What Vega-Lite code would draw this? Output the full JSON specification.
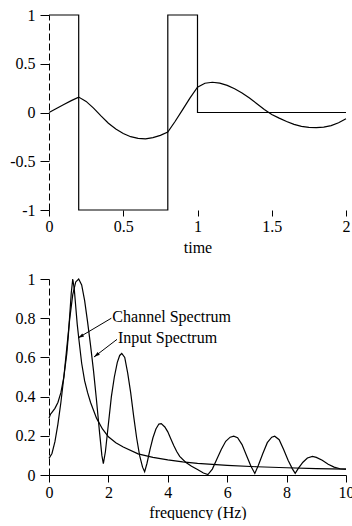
{
  "$schema": "https://vega.github.io/schema/vega-lite/v6.json",
  "background": "white",
  "padding": {"left": 9, "top": 7, "right": 0, "bottom": 0},
  "spacing": 16,
  "config": {
    "view": {"stroke": null},
    "axis": {
      "grid": false,
      "labelFont": "Liberation Serif",
      "titleFont": "Liberation Serif",
      "labelFontSize": 16,
      "titleFontSize": 16,
      "titleFontWeight": "normal",
      "labelColor": "black",
      "titleColor": "black",
      "tickColor": "black",
      "domainColor": "black",
      "labelFlush": false,
      "labelOverlap": false
    }
  },
  "datasets": {
    "sq": [
      {"i": 0, "t": 0, "v": 1},
      {"i": 1, "t": 0.2, "v": 1},
      {"i": 2, "t": 0.2, "v": -1},
      {"i": 3, "t": 0.8, "v": -1},
      {"i": 4, "t": 0.8, "v": 1},
      {"i": 5, "t": 1, "v": 1},
      {"i": 6, "t": 1, "v": 0},
      {"i": 7, "t": 2, "v": 0}
    ],
    "resp": [
      {"t": 0, "v": 0}, {"t": 0.05, "v": 0.042}, {"t": 0.1, "v": 0.083}, {"t": 0.15, "v": 0.122},
      {"t": 0.2, "v": 0.158}, {"t": 0.25, "v": 0.114}, {"t": 0.3, "v": 0.045}, {"t": 0.35, "v": -0.035},
      {"t": 0.4, "v": -0.11}, {"t": 0.45, "v": -0.17}, {"t": 0.5, "v": -0.215}, {"t": 0.55, "v": -0.248},
      {"t": 0.6, "v": -0.265}, {"t": 0.65, "v": -0.27}, {"t": 0.7, "v": -0.258}, {"t": 0.75, "v": -0.235},
      {"t": 0.8, "v": -0.2}, {"t": 0.85, "v": -0.09}, {"t": 0.9, "v": 0.03}, {"t": 0.95, "v": 0.15},
      {"t": 1.0, "v": 0.26}, {"t": 1.05, "v": 0.3}, {"t": 1.1, "v": 0.31}, {"t": 1.15, "v": 0.302},
      {"t": 1.2, "v": 0.278}, {"t": 1.25, "v": 0.243}, {"t": 1.3, "v": 0.2}, {"t": 1.35, "v": 0.148},
      {"t": 1.4, "v": 0.09}, {"t": 1.45, "v": 0.03}, {"t": 1.5, "v": -0.02}, {"t": 1.55, "v": -0.058},
      {"t": 1.6, "v": -0.093}, {"t": 1.65, "v": -0.122}, {"t": 1.7, "v": -0.142}, {"t": 1.75, "v": -0.153},
      {"t": 1.8, "v": -0.155}, {"t": 1.85, "v": -0.15}, {"t": 1.9, "v": -0.135}, {"t": 1.95, "v": -0.105},
      {"t": 2.0, "v": -0.065}
    ],
    "channel": [
      {"f": 0, "v": 0.29}, {"f": 0.05, "v": 0.31}, {"f": 0.1, "v": 0.32}, {"f": 0.2, "v": 0.34},
      {"f": 0.3, "v": 0.37}, {"f": 0.4, "v": 0.42}, {"f": 0.5, "v": 0.5}, {"f": 0.6, "v": 0.62},
      {"f": 0.65, "v": 0.71}, {"f": 0.7, "v": 0.82}, {"f": 0.75, "v": 0.93}, {"f": 0.8, "v": 1.0},
      {"f": 0.85, "v": 0.95}, {"f": 0.9, "v": 0.86}, {"f": 0.95, "v": 0.77}, {"f": 1.0, "v": 0.7},
      {"f": 1.1, "v": 0.57}, {"f": 1.2, "v": 0.48}, {"f": 1.3, "v": 0.42}, {"f": 1.4, "v": 0.37},
      {"f": 1.6, "v": 0.29}, {"f": 1.8, "v": 0.235}, {"f": 2.0, "v": 0.195}, {"f": 2.25, "v": 0.165},
      {"f": 2.5, "v": 0.143}, {"f": 3.0, "v": 0.108}, {"f": 3.5, "v": 0.09}, {"f": 4.0, "v": 0.077},
      {"f": 4.5, "v": 0.067}, {"f": 5.0, "v": 0.059}, {"f": 6.0, "v": 0.049}, {"f": 7.0, "v": 0.042},
      {"f": 8.0, "v": 0.037}, {"f": 9.0, "v": 0.033}, {"f": 10.0, "v": 0.03}
    ],
    "input": [
      {"f": 0, "v": 0.085}, {"f": 0.1, "v": 0.11}, {"f": 0.2, "v": 0.17}, {"f": 0.3, "v": 0.26},
      {"f": 0.4, "v": 0.37}, {"f": 0.5, "v": 0.5}, {"f": 0.6, "v": 0.65}, {"f": 0.7, "v": 0.8},
      {"f": 0.8, "v": 0.92}, {"f": 0.9, "v": 0.985}, {"f": 1.0, "v": 1.0}, {"f": 1.1, "v": 0.97},
      {"f": 1.2, "v": 0.89}, {"f": 1.3, "v": 0.78}, {"f": 1.4, "v": 0.66}, {"f": 1.5, "v": 0.53},
      {"f": 1.6, "v": 0.38}, {"f": 1.7, "v": 0.22}, {"f": 1.78, "v": 0.1}, {"f": 1.83, "v": 0.058},
      {"f": 1.9, "v": 0.12}, {"f": 2.0, "v": 0.26}, {"f": 2.1, "v": 0.4}, {"f": 2.2, "v": 0.5},
      {"f": 2.3, "v": 0.575}, {"f": 2.38, "v": 0.61}, {"f": 2.45, "v": 0.62}, {"f": 2.55, "v": 0.6},
      {"f": 2.65, "v": 0.52}, {"f": 2.75, "v": 0.42}, {"f": 2.85, "v": 0.3}, {"f": 2.95, "v": 0.19},
      {"f": 3.05, "v": 0.1}, {"f": 3.15, "v": 0.04}, {"f": 3.22, "v": 0.017}, {"f": 3.3, "v": 0.06},
      {"f": 3.4, "v": 0.13}, {"f": 3.5, "v": 0.19}, {"f": 3.6, "v": 0.235}, {"f": 3.7, "v": 0.26},
      {"f": 3.78, "v": 0.262}, {"f": 3.9, "v": 0.245}, {"f": 4.0, "v": 0.22}, {"f": 4.1, "v": 0.185},
      {"f": 4.2, "v": 0.15}, {"f": 4.3, "v": 0.12}, {"f": 4.4, "v": 0.095}, {"f": 4.6, "v": 0.065},
      {"f": 4.8, "v": 0.045}, {"f": 5.0, "v": 0.028}, {"f": 5.2, "v": 0.01}, {"f": 5.35, "v": 0.002},
      {"f": 5.5, "v": 0.03}, {"f": 5.65, "v": 0.08}, {"f": 5.8, "v": 0.13}, {"f": 5.95, "v": 0.172},
      {"f": 6.1, "v": 0.193}, {"f": 6.22, "v": 0.198}, {"f": 6.35, "v": 0.19}, {"f": 6.5, "v": 0.155},
      {"f": 6.65, "v": 0.1}, {"f": 6.8, "v": 0.045}, {"f": 6.93, "v": 0.008}, {"f": 7.05, "v": 0.05},
      {"f": 7.2, "v": 0.11}, {"f": 7.35, "v": 0.165}, {"f": 7.5, "v": 0.193}, {"f": 7.6, "v": 0.198},
      {"f": 7.75, "v": 0.18}, {"f": 7.9, "v": 0.13}, {"f": 8.05, "v": 0.075}, {"f": 8.2, "v": 0.03},
      {"f": 8.29, "v": 0.008}, {"f": 8.4, "v": 0.035}, {"f": 8.55, "v": 0.065}, {"f": 8.7, "v": 0.087},
      {"f": 8.87, "v": 0.095}, {"f": 9.0, "v": 0.09}, {"f": 9.2, "v": 0.075}, {"f": 9.4, "v": 0.055},
      {"f": 9.6, "v": 0.04}, {"f": 9.8, "v": 0.032}, {"f": 10.0, "v": 0.03}
    ],
    "notes": [
      {"name": "Channel Spectrum", "f": 2.1, "v": 0.8, "f2": 0.976, "v2": 0.699},
      {"name": "Input Spectrum", "f": 2.29, "v": 0.692, "f2": 1.515, "v2": 0.602}
    ]
  },
  "vconcat": [
    {
      "width": 297,
      "height": 195,
      "layer": [
        {
          "data": {"name": "sq"},
          "mark": {"type": "line", "color": "black", "strokeWidth": 1.2},
          "encoding": {
            "x": {
              "field": "t", "type": "quantitative",
              "scale": {"domain": [0, 2], "nice": false},
              "axis": {"title": "time", "values": [0, 0.5, 1, 1.5, 2], "tickCount": 10, "domain": false, "tickSize": 6, "labelPadding": 2, "titlePadding": 5, "labelOverlap": false, "labelExpr": "datum.value + ''"}
            },
            "y": {
              "field": "v", "type": "quantitative",
              "scale": {"domain": [-1, 1], "nice": false},
              "axis": {"title": null, "values": [-1, -0.5, 0, 0.5, 1], "tickCount": 10, "domainDash": [7, 3], "tickSize": 9, "labelPadding": 5, "labelOverlap": false, "labelExpr": "datum.value + ''"}
            },
            "order": {"field": "i", "type": "quantitative"}
          }
        },
        {
          "data": {"name": "resp"},
          "mark": {"type": "line", "color": "black", "strokeWidth": 1.2},
          "encoding": {
            "x": {"field": "t", "type": "quantitative"},
            "y": {"field": "v", "type": "quantitative"}
          }
        }
      ]
    },
    {
      "width": 297,
      "height": 196,
      "layer": [
        {
          "data": {"name": "channel"},
          "mark": {"type": "line", "color": "black", "strokeWidth": 1.2},
          "encoding": {
            "x": {
              "field": "f", "type": "quantitative",
              "scale": {"domain": [0, 10], "nice": false},
              "axis": {"title": "frequency (Hz)", "values": [0, 2, 4, 6, 8, 10], "tickCount": 10, "tickSize": 7, "labelPadding": 2, "titlePadding": 4, "labelOverlap": false, "labelExpr": "datum.value + ''"}
            },
            "y": {
              "field": "v", "type": "quantitative",
              "scale": {"domain": [0, 1], "nice": false},
              "axis": {"title": null, "values": [0, 0.2, 0.4, 0.6, 0.8, 1], "tickCount": 10, "domainDash": [7, 3], "tickSize": 9, "labelPadding": 5, "labelOverlap": false, "labelExpr": "datum.value + ''"}
            }
          }
        },
        {
          "data": {"name": "input"},
          "mark": {"type": "line", "color": "black", "strokeWidth": 1.2},
          "encoding": {
            "x": {"field": "f", "type": "quantitative"},
            "y": {"field": "v", "type": "quantitative"}
          }
        },
        {
          "data": {"name": "notes"},
          "mark": {"type": "rule", "color": "black", "strokeWidth": 1},
          "encoding": {
            "x": {"field": "f", "type": "quantitative"},
            "y": {"field": "v", "type": "quantitative"},
            "x2": {"field": "f2"},
            "y2": {"field": "v2"}
          }
        },
        {
          "data": {"name": "notes"},
          "transform": [{"filter": "datum.name == 'Channel Spectrum'"}],
          "mark": {"type": "point", "shape": "M0,0L-2,-0.6L-2,0.6Z", "filled": true, "color": "black", "opacity": 1, "size": 36, "angle": 150},
          "encoding": {
            "x": {"field": "f2", "type": "quantitative"},
            "y": {"field": "v2", "type": "quantitative"}
          }
        },
        {
          "data": {"name": "notes"},
          "transform": [{"filter": "datum.name == 'Input Spectrum'"}],
          "mark": {"type": "point", "shape": "M0,0L-2,-0.6L-2,0.6Z", "filled": true, "color": "black", "opacity": 1, "size": 36, "angle": 142},
          "encoding": {
            "x": {"field": "f2", "type": "quantitative"},
            "y": {"field": "v2", "type": "quantitative"}
          }
        },
        {
          "data": {"name": "notes"},
          "mark": {"type": "text", "align": "left", "baseline": "middle", "font": "Liberation Serif", "fontSize": 16, "color": "black", "dx": 1, "dy": -1},
          "encoding": {
            "x": {"field": "f", "type": "quantitative"},
            "y": {"field": "v", "type": "quantitative"},
            "text": {"field": "name"}
          }
        }
      ]
    }
  ]
}
